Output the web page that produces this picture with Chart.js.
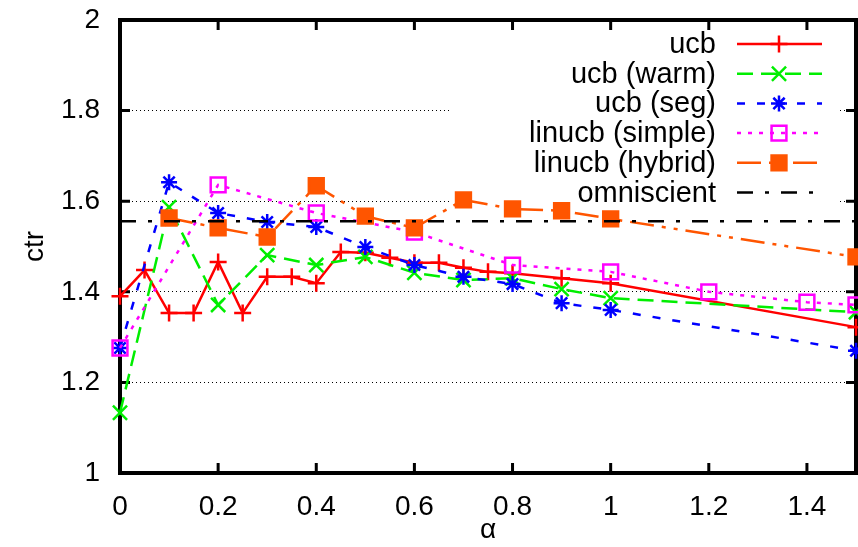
<!DOCTYPE html>
<html>
<head>
<meta charset="utf-8">
<script src="https://cdn.jsdelivr.net/npm/chart.js"></script>
<style>
  html, body { margin: 0; padding: 0; background: #fff; }
  #wrap { width: 858px; height: 547px; }
</style>
</head>
<body>
<div id="wrap"><canvas id="ctrChart"></canvas></div>
<script>
// values
const alphaUcb = [0, 0.05, 0.1, 0.15, 0.2, 0.25, 0.3, 0.35, 0.4, 0.45, 0.5, 0.55, 0.6, 0.65, 0.7, 0.75, 0.8, 0.9, 1.0, 1.5];
const ctrUcb   = [1.39, 1.448, 1.353, 1.353, 1.466, 1.353, 1.433, 1.433, 1.419, 1.488, 1.486, 1.475, 1.464, 1.464, 1.453, 1.444, 1.441, 1.43, 1.419, 1.322];

const alphaTenth = [0, 0.1, 0.2, 0.3, 0.4, 0.5, 0.6, 0.7, 0.8, 0.9, 1.0, 1.5];
const ctrWarm    = [1.133, 1.587, 1.371, 1.481, 1.459, 1.477, 1.442, 1.426, 1.43, 1.406, 1.386, 1.355];
const ctrSeg     = [1.276, 1.642, 1.574, 1.554, 1.543, 1.499, 1.459, 1.433, 1.417, 1.375, 1.36, 1.27];

const alphaSimple = [0, 0.2, 0.4, 0.6, 0.8, 1.0, 1.2, 1.4, 1.5];
const ctrSimple   = [1.276, 1.636, 1.574, 1.532, 1.459, 1.444, 1.4, 1.377, 1.371];

const alphaHybrid = [0.1, 0.2, 0.3, 0.4, 0.5, 0.6, 0.7, 0.8, 0.9, 1.0, 1.5];
const ctrHybrid   = [1.563, 1.541, 1.521, 1.634, 1.567, 1.541, 1.603, 1.583, 1.579, 1.561, 1.477];

const alphaOmni = [0, 1.5];
const ctrOmni   = 1.556;

const xTicks = [0, 0.2, 0.4, 0.6, 0.8, 1.0, 1.2, 1.4];
const yTicks = [1, 1.2, 1.4, 1.6, 1.8, 2];

const FONT = '"Liberation Sans", Arial, sans-serif';
const FSIZE = 28;

function pts( xs, ys ) {
    return xs.map( ( x, i ) => ( { x: x, y: Array.isArray( ys ) ? ys[i] : ys } ) );
}

function series( label, xs, ys, color, style, radius, dash, fill ) {
    return {
        label: label,
        data: pts( xs, ys ),
        borderColor: color,
        backgroundColor: fill ? color : 'rgba(0,0,0,0)',
        borderWidth: 2.5,
        borderDash: dash,
        pointStyle: style,
        pointRadius: radius,
        pointBorderWidth: 2.5,
        pointBorderColor: color,
        pointBackgroundColor: fill ? color : 'rgba(0,0,0,0)',
        tension: 0,
        clip: false,
    };
}

const datasets = [
    series( 'ucb', alphaUcb, ctrUcb, '#ff0000', 'cross', 8.5, [], false ),
    series( 'ucb (warm)', alphaTenth, ctrWarm, '#00ee00', 'crossRot', 10, [16, 8], false ),
    series( 'ucb (seg)', alphaTenth, ctrSeg, '#0000ff', 'star', 8, [8, 12], false ),
    series( 'linucb (simple)', alphaSimple, ctrSimple, '#ff00ff', 'rect', 10.5, [4, 7], false ),
    series( 'linucb (hybrid)', alphaHybrid, ctrHybrid, '#ff5500', 'rect', 10.5, [24, 8, 4, 8, 4, 8], true ),
    series( 'omniscient', alphaOmni, ctrOmni, '#000000', false, 0, [16, 12, 4, 12], false ),
];
datasets.forEach( ( d, i ) => { d.order = datasets.length - i; } );

const fmt = v => Number( v.toFixed( 1 ) ).toString();

// white key box, key entries and frame with inner ticks
const keyPlugin = {
    id: 'gnuKey',
    beforeDatasetsDraw( chart ) {
        const ctx = chart.ctx;
        const area = chart.chartArea;
        ctx.save();
        ctx.fillStyle = '#fff';
        ctx.fillRect( 452, area.top + 3, 386, 186 );

        // frame
        ctx.strokeStyle = '#000';
        ctx.lineWidth = 4;
        ctx.setLineDash( [] );
        ctx.strokeRect( area.left, area.top, area.right - area.left, area.bottom - area.top );

        const xs = chart.scales.x, ys = chart.scales.y;
        ctx.lineWidth = 3;
        ctx.beginPath();
        xs.ticks.forEach( t => {
            if ( t.value <= 0 || t.value >= 1.5 ) return;
            const px = xs.getPixelForValue( t.value );
            ctx.moveTo( px, area.bottom ); ctx.lineTo( px, area.bottom - 10 );
            ctx.moveTo( px, area.top ); ctx.lineTo( px, area.top + 10 );
        } );
        ys.ticks.forEach( t => {
            if ( t.value <= 1 || t.value >= 2 ) return;
            const py = ys.getPixelForValue( t.value );
            ctx.moveTo( area.left, py ); ctx.lineTo( area.left + 10, py );
            ctx.moveTo( area.right, py ); ctx.lineTo( area.right - 10, py );
        } );
        ctx.stroke();

        // key
        ctx.font = '29px ' + FONT;
        ctx.textAlign = 'right';
        ctx.textBaseline = 'middle';
        chart.data.datasets.forEach( ( d, i ) => {
            const y = 44 + i * 29.7;
            ctx.fillStyle = '#000';
            ctx.fillText( d.label, 716, y + 1 );
            ctx.strokeStyle = d.borderColor;
            ctx.lineWidth = 2.5;
            ctx.setLineDash( d.borderDash );
            ctx.beginPath();
            ctx.moveTo( 737, y );
            ctx.lineTo( 822, y );
            ctx.stroke();
            ctx.setLineDash( [] );
            if ( d.pointStyle ) {
                ctx.fillStyle = d.pointBackgroundColor;
                ctx.strokeStyle = d.pointBorderColor;
                ctx.lineWidth = 2.5;
                Chart.helpers.drawPoint( ctx, { pointStyle: d.pointStyle, radius: d.pointRadius, borderWidth: 2.5, rotation: 0 }, 779, y );
            }
        } );
        ctx.restore();
    }
};

new Chart( document.getElementById( 'ctrChart' ), {
    type: 'line',
    data: { datasets: datasets },
    plugins: [keyPlugin],
    options: {
        responsive: true,
        maintainAspectRatio: false,
        animation: false,
        layout: { autoPadding: false, padding: { top: 20, right: 2, left: 0, bottom: 0 } },
        plugins: {
            legend: { display: false },
            tooltip: { enabled: false },
        },
        scales: {
            x: {
                type: 'linear',
                min: 0,
                max: 1.5,
                afterBuildTicks: scale => {
                    scale.ticks = xTicks.map( v => ( { value: v } ) );
                },
                afterFit: scale => {
                    scale.height = 74;
                    scale.paddingLeft = 0;
                    scale.paddingRight = 0;
                },
                ticks: {
                    color: '#000',
                    padding: 9,
                    maxRotation: 0,
                    autoSkip: false,
                    callback: fmt,
                    font: { family: FONT, size: FSIZE },
                },
                grid: { display: false },
                border: { display: false },
                title: {
                    display: true,
                    text: 'α',
                    color: '#000',
                    font: { family: FONT, size: FSIZE },
                    padding: { top: 0, bottom: 0 },
                },
            },
            y: {
                type: 'linear',
                min: 1,
                max: 2,
                afterBuildTicks: scale => {
                    scale.ticks = yTicks.map( v => ( { value: v } ) );
                },
                afterFit: scale => {
                    scale.width = 120;
                    scale.paddingTop = 0;
                    scale.paddingBottom = 0;
                },
                ticks: {
                    color: '#000',
                    padding: 20,
                    callback: fmt,
                    font: { family: FONT, size: FSIZE },
                },
                grid: {
                    drawTicks: false,
                    lineWidth: 1,
                    color: c => ( c.tick && c.tick.value > 1.01 && c.tick.value < 1.99 ) ? '#000' : 'rgba(0,0,0,0)',
                },
                border: { display: false, dash: [1, 3] },
                title: {
                    display: true,
                    text: 'ctr',
                    color: '#000',
                    font: { family: FONT, size: FSIZE },
                    padding: { top: 18, bottom: 0 },
                },
            },
        },
    },
} );
</script>
</body>
</html>
